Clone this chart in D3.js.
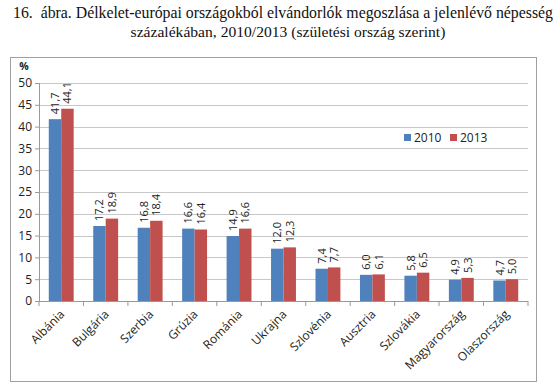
<!DOCTYPE html>
<html><head><meta charset="utf-8">
<script src="https://cdn.jsdelivr.net/npm/d3@7"></script>
<style>body{margin:0;background:#fff}</style>
</head><body>
<script>
const categories = ["Albánia","Bulgária","Szerbia","Grúzia","Románia","Ukrajna","Szlovénia","Ausztria","Szlovákia","Magyarország","Olaszország"];
const series2010 = [41.7,17.2,16.8,16.6,14.9,12.0,7.4,6.0,5.8,4.9,4.7];
const series2013 = [44.1,18.9,18.4,16.4,16.6,12.3,7.7,6.1,6.5,5.3,5.0];
const seriesNames = ["2010","2013"];
const yTicks = [0,5,10,15,20,25,30,35,40,45,50];
const titleLines = ["16.  ábra. Délkelet-európai országokból elvándorlók megoszlása a jelenlévő népesség","százalékában, 2010/2013 (születési ország szerint)"];

(function(){
const W=560,H=390;
const colors=["#4F81BD","#C0504D"];
const svg=d3.select("body").append("svg").attr("width",W).attr("height",H);

svg.append("text").attr("x",13).attr("y",18).attr("text-anchor","start")
  .style("white-space","pre")
  .style("font-family","'Liberation Serif', serif").style("font-size","15.8px").attr("fill","#111").text(titleLines[0]);
svg.append("text").attr("x",288).attr("y",37).attr("text-anchor","middle")
  .style("font-family","'Liberation Serif', serif").style("font-size","15.6px").attr("fill","#111").text(titleLines[1]);

svg.append("rect").attr("x",10.5).attr("y",57.5).attr("width",526).attr("height",324)
  .attr("fill","none").attr("stroke","#a0a0a0").attr("stroke-width",1);

const pl=39,pr=528,pt=83,pb=301;
const x=d3.scaleBand().domain(categories).range([pl,pr]).paddingInner(0.44).paddingOuter(0.22);
const x1=d3.scaleBand().domain(seriesNames).range([0,x.bandwidth()]);
const y=d3.scaleLinear().domain([0,50]).range([pb,pt]);

svg.append("g").selectAll("line").data(yTicks.filter(t=>t>0)).enter().append("line")
  .attr("x1",pl).attr("x2",pr).attr("y1",d=>Math.round(y(d))+0.5).attr("y2",d=>Math.round(y(d))+0.5)
  .attr("stroke","#c8c8c8").attr("stroke-width",1.2);

const ya=svg.append("g").attr("transform",`translate(${pl},0)`).call(d3.axisLeft(y).tickValues(yTicks).tickSize(4).tickPadding(3));
ya.select(".domain").attr("stroke","#999");
ya.selectAll(".tick line").attr("stroke","#999");
ya.selectAll("text").style("font-family","'Open Sans', sans-serif").style("font-size","12px").attr("fill","#222");

svg.append("text").attr("x",24).attr("y",70).attr("text-anchor","middle")
  .style("font-family","'Open Sans', sans-serif").style("font-size","10.5px").style("font-weight","bold").attr("fill","#222").text("%");

const data=categories.map((c,i)=>({c,vals:[series2010[i],series2013[i]]}));
const g=svg.append("g").selectAll("g").data(data).enter().append("g").attr("transform",d=>`translate(${x(d.c)},0)`);
g.selectAll("rect").data(d=>d.vals.map((v,j)=>({v,s:seriesNames[j],j}))).enter().append("rect")
  .attr("x",d=>x1(d.s)).attr("width",x1.bandwidth()).attr("y",d=>y(d.v)).attr("height",d=>pb-y(d.v))
  .attr("fill",d=>colors[d.j]);
g.selectAll("text").data(d=>d.vals.map((v,j)=>({v,s:seriesNames[j],j}))).enter().append("text")
  .attr("transform",d=>`translate(${x1(d.s)+x1.bandwidth()/2+4},${y(d.v)-5}) rotate(-90)`)
  .style("font-family","'Open Sans', sans-serif").style("font-size","11px").attr("fill","#222")
  .text(d=>d.v.toFixed(1).replace(".",","));

const step=(pr-pl)/categories.length;
const xa=svg.append("g").attr("transform",`translate(0,${pb})`);
xa.append("line").attr("x1",pl).attr("x2",pr).attr("y1",0.5).attr("y2",0.5).attr("stroke","#999");
xa.selectAll("line.t").data(d3.range(categories.length+1)).enter().append("line")
  .attr("x1",i=>pl+i*step).attr("x2",i=>pl+i*step).attr("y1",0).attr("y2",5).attr("stroke","#999");
xa.selectAll("text").data(categories).enter().append("text")
  .attr("transform",d=>`translate(${x(d)+x.bandwidth()/2+4},14) rotate(-45)`)
  .attr("text-anchor","end")
  .style("font-family","'Open Sans', sans-serif").style("font-size","12px").attr("fill","#222").text(d=>d);

const lg=svg.append("g").attr("transform","translate(404,138)");
seriesNames.forEach((s,i)=>{
  lg.append("rect").attr("x",i*46).attr("y",-4).attr("width",7).attr("height",7).attr("fill",colors[i]);
  lg.append("text").attr("x",i*46+10).attr("y",4).style("font-family","'Open Sans', sans-serif").style("font-size","12px").attr("fill","#222").text(s);
});
})();
</script>
</body></html>
